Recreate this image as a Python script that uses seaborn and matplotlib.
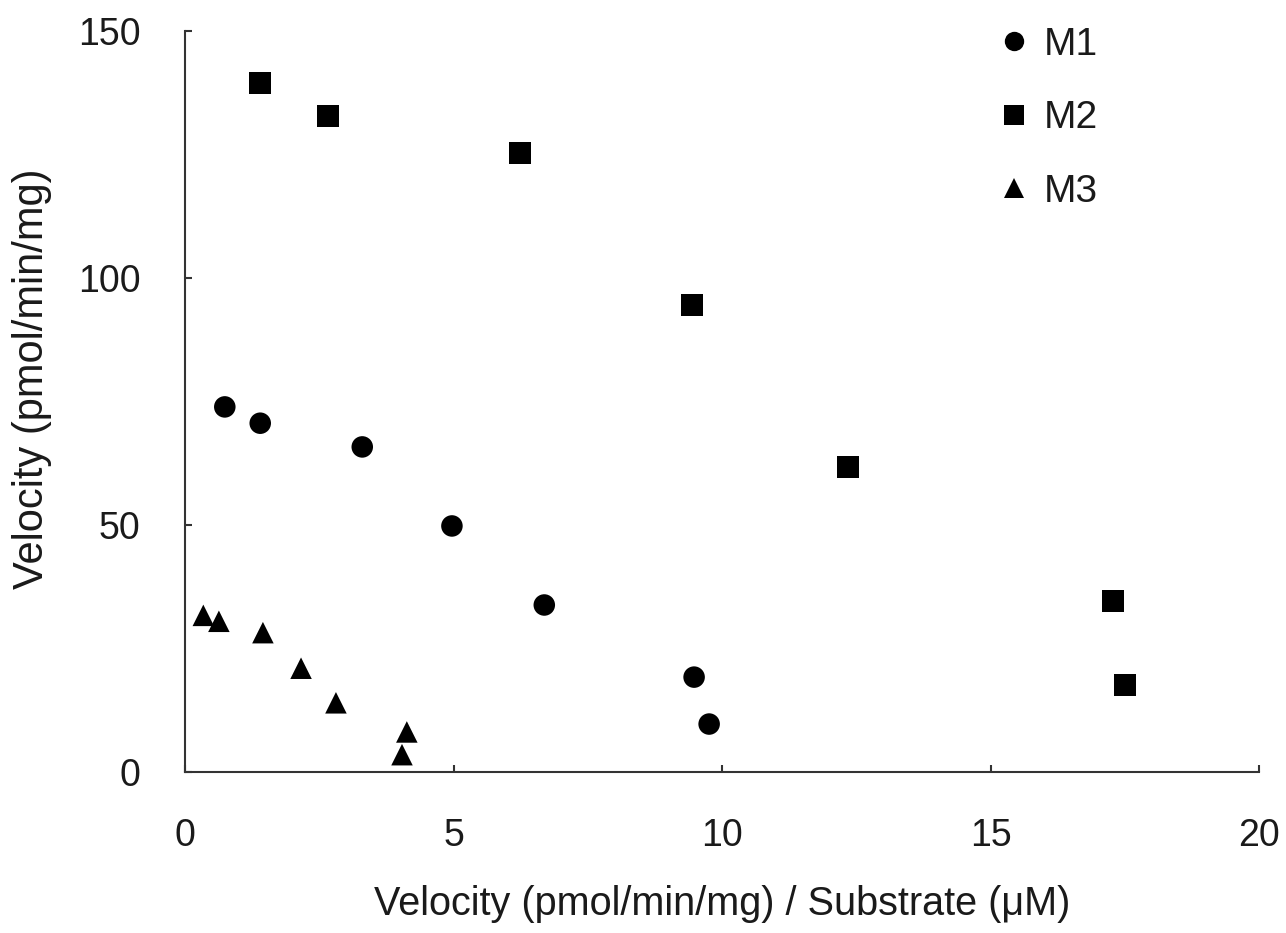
import numpy as np
import pandas as pd
import seaborn as sns
import matplotlib
matplotlib.use('Agg')
import matplotlib.pyplot as plt

# values
m1_x = [0.74, 1.40, 3.30, 4.97, 6.69, 9.48, 9.76]
m1_y = [73.9, 70.6, 65.8, 49.8, 33.8, 19.2, 9.7]
m2_x = [1.40, 2.66, 6.24, 9.44, 12.35, 17.28, 17.50]
m2_y = [139.5, 132.8, 125.3, 94.5, 61.7, 34.6, 17.6]
m3_x = [0.34, 0.63, 1.45, 2.16, 2.81, 4.13, 4.04]
m3_y = [31.7, 30.5, 28.2, 21.0, 14.0, 8.1, 3.5]

series_names = ['M1', 'M2', 'M3']
x_ticks = [0, 5, 10, 15, 20]
y_ticks = [0, 50, 100, 150]

df = pd.DataFrame({
    'x': m1_x + m2_x + m3_x,
    'y': m1_y + m2_y + m3_y,
    'series': ['M1'] * len(m1_x) + ['M2'] * len(m2_x) + ['M3'] * len(m3_x),
})

sns.set_theme(style='ticks')
plt.rcParams['font.family'] = ['Liberation Sans', 'DejaVu Sans']

fig = plt.figure(figsize=(12.86, 9.33), dpi=100)
ax = fig.add_axes([0.1439, 0.1726, 0.979 - 0.1439, 0.9668 - 0.1726])

sns.scatterplot(data=df, x='x', y='y', style='series', style_order=series_names,
                markers={'M1': 'o', 'M2': 's', 'M3': '^'},
                color='black', edgecolor='black', linewidth=0, s=240,
                ax=ax, legend='full')

ax.set_xlim(0, 20)
ax.set_ylim(0, 150)
ax.set_xticks(x_ticks)
ax.set_yticks(y_ticks)

text_col = '#1a1a1a'
for side in ['top', 'right']:
    ax.spines[side].set_visible(False)
for side in ['left', 'bottom']:
    ax.spines[side].set_color('#333333')
    ax.spines[side].set_linewidth(1.5)

ax.tick_params(axis='both', direction='in', length=5, width=1.5, color='#333333',
               labelsize=27, labelcolor=text_col)
ax.tick_params(axis='x', pad=33)
ax.tick_params(axis='y', pad=32)

ax.set_xlabel('Velocity (pmol/min/mg) / Substrate (\u03bcM)', fontsize=28.5,
              color=text_col)
ax.set_ylabel('Velocity (pmol/min/mg)', fontsize=30, color=text_col)
ax.xaxis.set_label_coords(0.5, -0.153)
ax.yaxis.set_label_coords(-0.124, 0.531)

old = ax.get_legend()
handles = old.legend_handles
labels = [t.get_text() for t in old.get_texts()]
old.remove()
ax.legend(handles, labels, loc='upper left', bbox_to_anchor=(0.743, 1.0265),
          frameon=False, fontsize=28, labelspacing=0.96, handlelength=0.8,
          handletextpad=0.35, markerscale=0.9, borderaxespad=0)
for t in ax.get_legend().get_texts():
    t.set_color(text_col)

fig.savefig('out.png', dpi=100)
